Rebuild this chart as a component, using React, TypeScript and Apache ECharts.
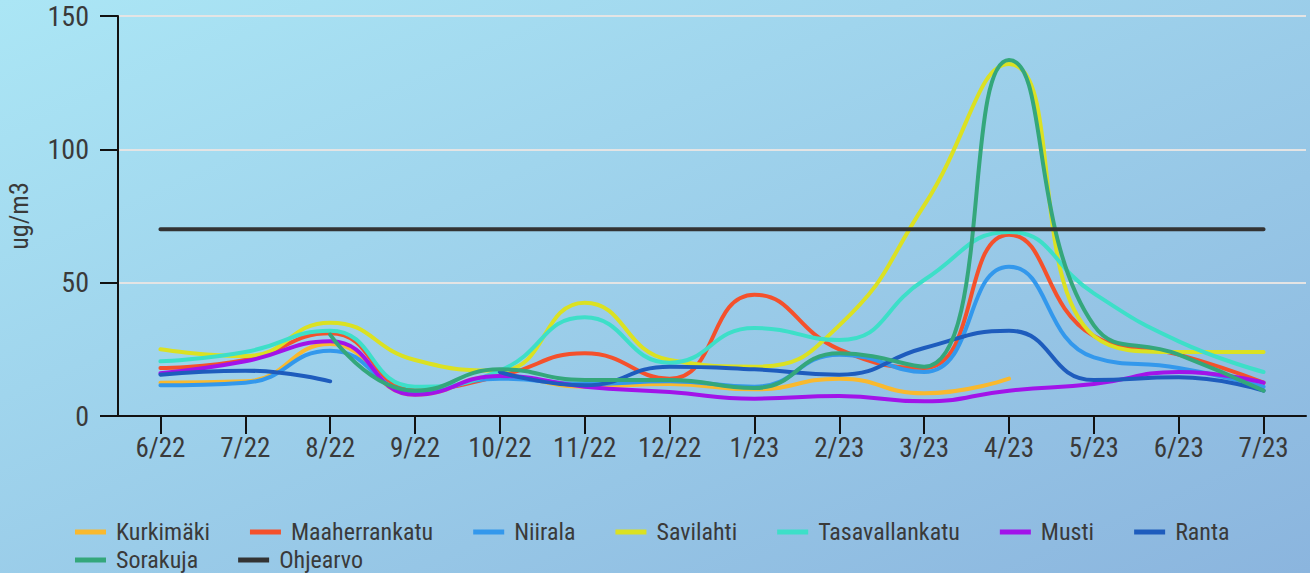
import React, { useEffect, useRef } from "react";
import * as echarts from "echarts";

const categories = ["6/22", "7/22", "8/22", "9/22", "10/22", "11/22", "12/22", "1/23", "2/23", "3/23", "4/23", "5/23", "6/23", "7/23"];
const yTicks = [0, 50, 100, 150];

const kurkimaki = [12.5, 13, 27, 8, 15, 11, 12, 10, 14, 8.5, 14, null, null, null];
const maaherrankatu = [18, 21, 31, 10, 15, 23.5, 14, 45.5, 25, 18, 68, 30, 23, 12.5];
const niirala = [11.5, 12.5, 24.5, 9, 14, 12, 13, 11, 23, 16.5, 56, 22, 18, 11];
const savilahti = [25, 22.5, 35, 21, 17, 42.5, 21, 18.5, 34, 79, 132, 30, 24, 24];
const tasavallankatu = [20.5, 24, 32, 11, 17, 37, 20, 33, 28.5, 51, 69, 46, 28, 16.5];
const musti = [16, 20.5, 28, 8, 15, 11, 9, 6.5, 7.5, 5.5, 9.5, 12, 16.5, 12.5];
const ranta = [15.5, 17, 13, null, 16.5, 11.5, 18.5, 17.5, 15.5, 25.5, 32, 13.5, 14.5, 9.5];
const sorakuja = [null, null, 30.5, 9.5, 17.5, 13.5, 13.5, 10.5, 23.5, 18.5, 133.5, 34, 23, 9.5];
const ohjearvo = [70, 70, 70, 70, 70, 70, 70, 70, 70, 70, 70, 70, 70, 70];

const seriesNames = ["Kurkimäki", "Maaherrankatu", "Niirala", "Savilahti", "Tasavallankatu", "Musti", "Ranta", "Sorakuja", "Ohjearvo"];
const seriesData = [kurkimaki, maaherrankatu, niirala, savilahti, tasavallankatu, musti, ranta, sorakuja, ohjearvo];
const seriesColors = ["#f9b92e", "#f4512c", "#3398ec", "#dbe122", "#3ddfc8", "#a213e9", "#1e5cbd", "#34a77b", "#333333"];

const FONT = "'Roboto Condensed', 'Liberation Sans Narrow', 'DejaVu Sans Condensed', Roboto, sans-serif";
const TEXT = "#3a3a3a";

export default function App() {
  const ref = useRef<HTMLDivElement>(null);
  useEffect(() => {
    if (!ref.current) return;
    const chart = echarts.init(ref.current, null, { renderer: "svg" });
    const legendBase = {
      orient: "horizontal",
      itemWidth: 31,
      itemHeight: 5,
      itemGap: 40,
      icon: "rect",
      textStyle: { fontFamily: FONT, fontSize: 24, color: TEXT, padding: [0, 0, 0, 5] },
    };
    chart.setOption({
      animation: false,
      backgroundColor: {
        type: "linear",
        x: 0,
        y: 0,
        x2: 1,
        y2: 1,
        colorStops: [
          { offset: 0, color: "#abe6f5" },
          { offset: 1, color: "#8bb5de" },
        ],
      },
      textStyle: { fontFamily: FONT },
      grid: { left: 118, right: 4, top: 16, bottom: 157, containLabel: false, outerBoundsMode: "none" },
      legend: [
        { ...legendBase, left: 70, top: 515, data: seriesNames.slice(0, 7) },
        { ...legendBase, left: 70, top: 543, data: seriesNames.slice(7) },
      ],
      xAxis: {
        type: "category",
        data: categories,
        boundaryGap: true,
        axisLine: { show: true, lineStyle: { color: "#111", width: 2 } },
        axisTick: { show: true, alignWithLabel: true, length: 18, lineStyle: { color: "#111", width: 2 } },
        axisLabel: { fontFamily: FONT, fontSize: 27, color: TEXT, margin: 18 },
        splitLine: { show: false },
      },
      yAxis: {
        type: "value",
        min: yTicks[0],
        max: yTicks[yTicks.length - 1],
        interval: 50,
        name: "ug/m3",
        nameLocation: "middle",
        nameGap: 86,
        nameTextStyle: { fontFamily: FONT, fontSize: 26, color: TEXT },
        axisLine: { show: true, lineStyle: { color: "#111", width: 2 } },
        axisTick: { show: true, length: 18, lineStyle: { color: "#111", width: 2 } },
        axisLabel: { fontFamily: FONT, fontSize: 28, color: TEXT, margin: 29 },
        splitLine: { show: true, lineStyle: { color: "#e4e4e4", width: 2 } },
      },
      series: seriesNames.map((name, i) => ({
        name,
        type: "line",
        data: seriesData[i],
        smooth: true,
        showSymbol: false,
        symbol: "none",
        connectNulls: false,
        color: seriesColors[i],
        lineStyle: { color: seriesColors[i], width: 4, cap: "round" },
        itemStyle: { color: seriesColors[i] },
      })),
    });
    return () => chart.dispose();
  }, []);
  return <div ref={ref} style={{ position: "fixed", left: 0, top: 0, width: 1310, height: 573 }} />;
}
